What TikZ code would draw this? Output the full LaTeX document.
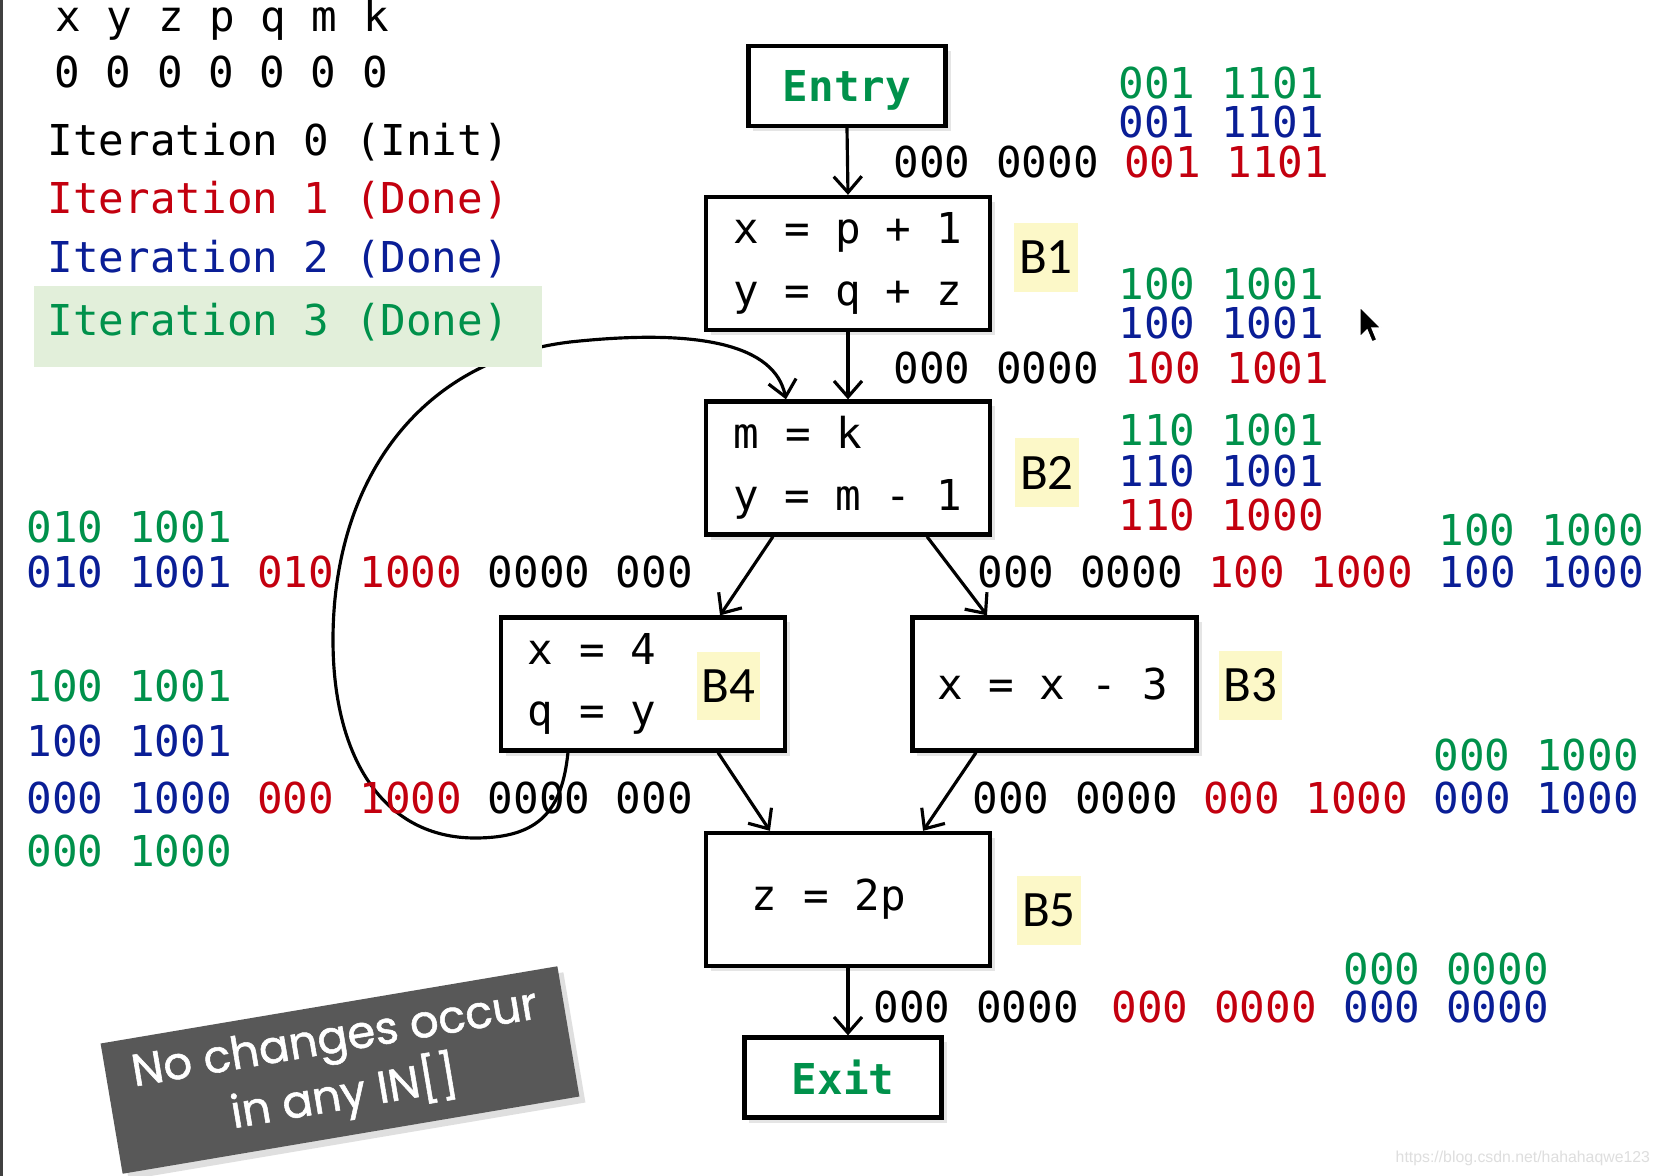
\documentclass[tikz,border=0pt]{standalone}
\usepackage{fontspec}
\setmainfont{DejaVu Sans}
\newfontfamily\codefont{DejaVu Sans Mono}
\newfontfamily\tagfont{Carlito}
\newfontfamily\notefont[FakeBold=1.2]{Poppins}
\newfontfamily\wmfont{Liberation Sans}
\usepackage{tikz}
\usetikzlibrary{arrows.meta,shadows,calc}

\definecolor{igreen}{RGB}{0,145,75}
\definecolor{ired}{RGB}{195,0,15}
\definecolor{iblue}{RGB}{10,30,150}
\definecolor{hlgreen}{RGB}{226,239,218}
\definecolor{tagyellow}{RGB}{252,248,200}
\definecolor{notegray}{RGB}{88,88,88}

\newcommand{\codesize}{\fontsize{12.1pt}{17.6pt}\selectfont}

\begin{document}
\begin{tikzpicture}[
		x=0.01cm, y=-0.01cm,
		block/.style={draw, line width=1.2pt, fill=white, minimum width=2.84cm, minimum height=1.33cm,
			inner ysep=0.1cm, align=left, font=\codefont\codesize,
			execute at begin node={\spaceskip=0pt\xspaceskip=0pt},
			drop shadow={shadow xshift=0.05cm, shadow yshift=-0.05cm, opacity=0.2}},
		term/.style={block, minimum width=1.97cm, minimum height=0.8cm, align=center,
			text=igreen, font=\codefont\bfseries\codesize},
		tag/.style={fill=tagyellow, minimum width=0.63cm, minimum height=0.68cm, inner sep=0pt,
			font=\tagfont\fontsize{14.5pt}{16pt}\selectfont},
		bits/.style={anchor=base west, inner sep=0pt, font=\codefont\codesize},
		note/.style={fill=notegray, rotate=9.6, minimum width=4.63cm, minimum height=1.32cm,
			text=white, align=center, font=\notefont\fontsize{12.8pt}{15pt}\selectfont,
			drop shadow={shadow xshift=0.06cm, shadow yshift=-0.06cm, opacity=0.25}},
		flow/.style={->, line width=0.9pt},
		>={Straight Barb[length=1.6mm,width=2.8mm]}
		]

		\fill[white] (0,0) rectangle (1660,1176);
		\useasboundingbox (0,0) rectangle (1660,1176);
		\draw[line width=0.03cm, black!75] (1.5,0) -- (1.5,1176);

		% --- blocks ---
		\node[term, text depth=0pt] (entry) at (847,86) {Entry};
		\node[block, text width=2.28cm, inner xsep=0.28cm] (B1) at (848,263.5) {x = p + 1\\y = q + z};
		\node[block, text width=2.28cm, inner xsep=0.28cm] (B2) at (848,468) {m = k\\y = m - 1};
		\node[block, text width=2.30cm, inner xsep=0.27cm] (B4) at (643,684) {x = 4\\q = y};
		\node[block, text width=2.34cm, inner xsep=0.25cm] (B3) at (1054.5,684) {x = x - 3};
		\node[block, text width=1.92cm, inner xsep=0.46cm] (B5) at (848,899.5) {z = 2p};
		\node[term] (exit) at (843,1077.5) {Exit};

		% block names
		\node[tag] (t1) at (1046,257.5) {B1};
		\node[tag] (t2) at (1047,472.5) {B2};
		\node[tag] (t4) at (728.5,686) {B4};
		\node[tag] (t3) at (1250.5,685.5) {B3};
		\node[tag] (t5) at (1049,910.5) {B5};

		% --- edges ---
		\draw[flow] (entry.south) -- (B1.north);
		\draw[flow] (B1.south) -- (B2.north);
		\draw[flow] ([xshift=-0.75cm]B2.south) -- ([xshift=0.77cm]B4.north);
		\draw[flow] ([xshift=0.79cm]B2.south) -- ([xshift=-0.675cm]B3.north);
		\draw[flow] ([xshift=0.75cm]B4.south) -- ([xshift=-0.78cm]B5.north);
		\draw[flow] ([xshift=-0.785cm]B3.south) -- ([xshift=0.75cm]B5.north);
		\draw[flow] (B5.south) -- (B5.south |- exit.north);

		% back edge B4 -> B2
		\draw[flow] ([xshift=-0.75cm]B4.south) .. controls (562,810) and (540,838) .. (475,838)
			.. controls (385,838) and (333,760) .. (333,640)
			.. controls (333,480) and (420,360) .. (570,342)
			.. controls (700,328) and (775,345) .. ([xshift=-0.62cm]B2.north);

		% --- legend ---
		\node[bits] (vars) at (55,32) {x y z p q m k};
		\node[bits] (zero) at (54,88) {0 0 0 0 0 0 0};
		\node[bits] (it0) at (47,156) {Iteration 0 (Init)};
		\node[bits, text=ired] (it1) at (47,214) {Iteration 1 (Done)};
		\node[bits, text=iblue] (it2) at (47,273) {Iteration 2 (Done)};
		\node[fill=hlgreen, minimum width=5.08cm, minimum height=0.81cm, inner sep=0pt] (hl) at (288,326.5) {};
		\node[bits, text=igreen] (it3) at (47,335) {Iteration 3 (Done)};

		% --- IN / OUT sets ---
		% Entry -> B1
		\node[bits, text=igreen] (a3) at (1118,98.5) {001 1101};
		\node[bits, text=iblue] (a2) at (1118,137.5) {001 1101};
		\node[bits] (a1) at (893,178) {000 0000 \textcolor{ired}{001 1101}};
		% B1 -> B2
		\node[bits, text=igreen] (b3) at (1118,299.5) {100 1001};
		\node[bits, text=iblue] (b2) at (1118,338.5) {100 1001};
		\node[bits] (b1) at (893,383.5) {000 0000 \textcolor{ired}{100 1001}};
		% B2
		\node[bits, text=igreen] (c3) at (1118,445.5) {110 1001};
		\node[bits, text=iblue] (c2) at (1118,486.5) {110 1001};
		\node[bits, text=ired] (c1) at (1118,530.5) {110 1000};
		% B2 -> B3
		\node[bits, text=igreen] (d3) at (1438,545.5) {100 1000};
		\node[bits] (d1) at (977,587.5) {000 0000 \textcolor{ired}{100 1000} \textcolor{iblue}{100 1000}};
		% B2 -> B4
		\node[bits, text=igreen] (f3) at (26,542.5) {010 1001};
		\node[bits] (f1) at (26,587.5) {\textcolor{iblue}{010 1001} \textcolor{ired}{010 1000} 0000 000};
		% B4 -> B5
		\node[bits, text=igreen] (g4) at (26,701.5) {100 1001};
		\node[bits, text=iblue] (g3) at (26,756.5) {100 1001};
		\node[bits] (g1) at (26,813.5) {\textcolor{iblue}{000 1000} \textcolor{ired}{000 1000} 0000 000};
		\node[bits, text=igreen] (g2) at (26,866.5) {000 1000};
		% B3 -> B5
		\node[bits, text=igreen] (h3) at (1433,770.5) {000 1000};
		\node[bits] (h1) at (972,813.5) {000 0000 \textcolor{ired}{000 1000} \textcolor{iblue}{000 1000}};
		% B5 -> Exit
		\node[bits, text=igreen] (k3) at (1343,984.5) {000 0000};
		\node[bits] (k1) at (873,1022.5) {000 0000};
		\node[bits, text=ired] (k2) at (1111,1022.5) {000 0000};
		\node[bits, text=iblue] (k4) at (1343,1022.5) {000 0000};

		% --- note, pointer, watermark ---
		\node[note] (note) at (340,1070) {No changes occur\\in any IN[]};
		\filldraw[fill=black, draw=white, line width=0.4pt] (1360,307) -- (1360,337) -- (1367,330)
			-- (1372,342) -- (1377,340) -- (1372,328) -- (1381,328) -- cycle;
		\node[anchor=base west, inner sep=0pt, text=black!13, font=\wmfont\fontsize{4.5pt}{5pt}\selectfont]
			(wm) at (1395,1162) {https://blog.csdn.net/hahahaqwe123};

	\end{tikzpicture}
\end{document}
